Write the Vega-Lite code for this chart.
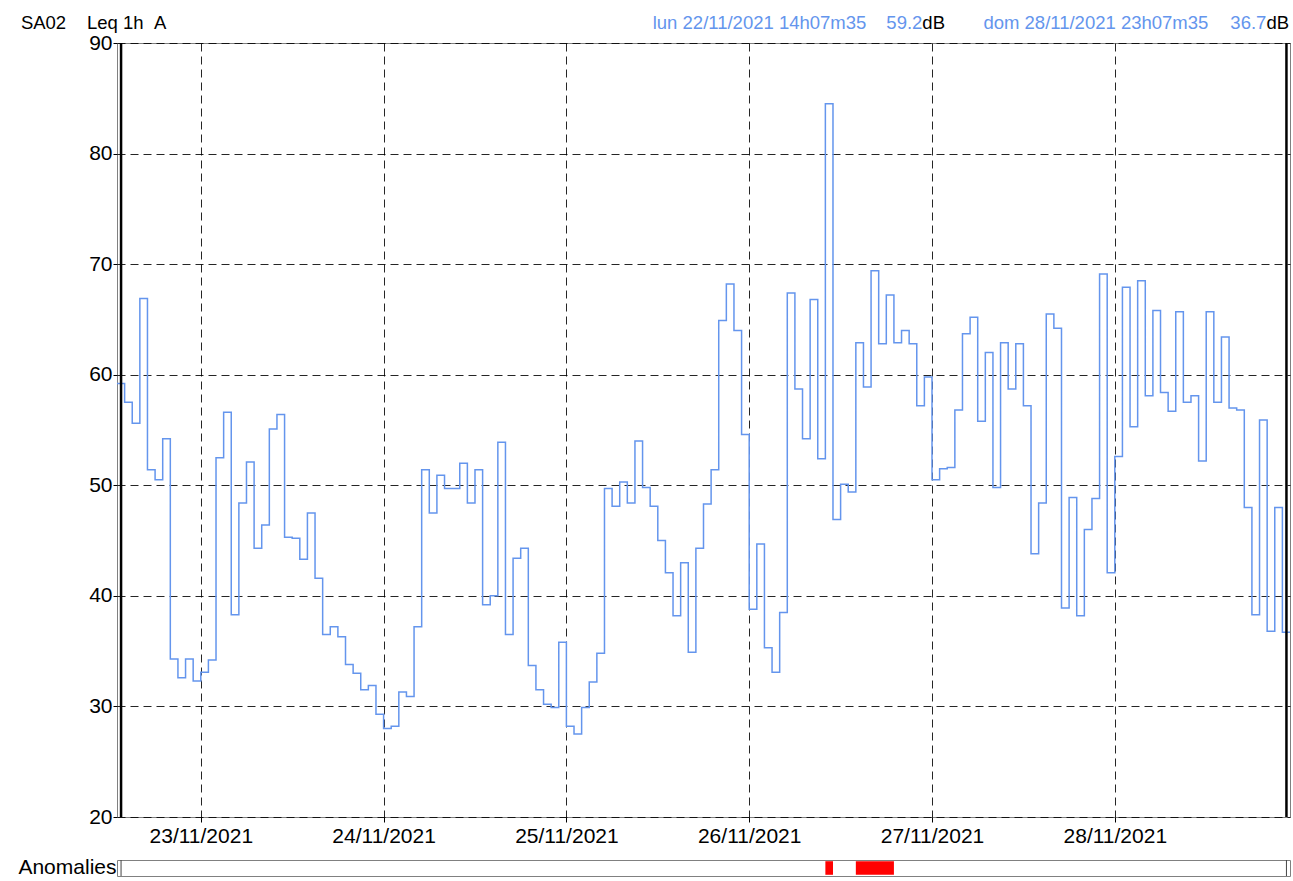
{
  "$schema": "https://vega.github.io/schema/vega-lite/v6.json",
  "padding": {"left": 16, "top": 13, "right": 0, "bottom": 0},
  "background": "white",
  "config": {
    "font": "Liberation Sans",
    "view": {"stroke": "#808080", "strokeWidth": 1},
    "axis": {"labelColor": "black", "tickColor": "black", "labelFont": "Liberation Sans"}
  },
  "datasets": {
    "leq": [
      {"t":"2021-11-22T13:00","v":59.2},{"t":"2021-11-22T14:00","v":57.5},{"t":"2021-11-22T15:00","v":55.6},{"t":"2021-11-22T16:00","v":66.9},
      {"t":"2021-11-22T17:00","v":51.4},{"t":"2021-11-22T18:00","v":50.5},{"t":"2021-11-22T19:00","v":54.2},{"t":"2021-11-22T20:00","v":34.3},
      {"t":"2021-11-22T21:00","v":32.6},{"t":"2021-11-22T22:00","v":34.3},{"t":"2021-11-22T23:00","v":32.3},
      {"t":"2021-11-23T00:00","v":33.1},{"t":"2021-11-23T01:00","v":34.2},{"t":"2021-11-23T02:00","v":52.5},{"t":"2021-11-23T03:00","v":56.6},
      {"t":"2021-11-23T04:00","v":38.3},{"t":"2021-11-23T05:00","v":48.4},{"t":"2021-11-23T06:00","v":52.1},{"t":"2021-11-23T07:00","v":44.3},
      {"t":"2021-11-23T08:00","v":46.4},{"t":"2021-11-23T09:00","v":55.1},{"t":"2021-11-23T10:00","v":56.4},{"t":"2021-11-23T11:00","v":45.3},
      {"t":"2021-11-23T12:00","v":45.2},{"t":"2021-11-23T13:00","v":43.3},{"t":"2021-11-23T14:00","v":47.5},{"t":"2021-11-23T15:00","v":41.6},
      {"t":"2021-11-23T16:00","v":36.5},{"t":"2021-11-23T17:00","v":37.2},{"t":"2021-11-23T18:00","v":36.3},{"t":"2021-11-23T19:00","v":33.8},
      {"t":"2021-11-23T20:00","v":33.0},{"t":"2021-11-23T21:00","v":31.5},{"t":"2021-11-23T22:00","v":31.9},{"t":"2021-11-23T23:00","v":29.3},
      {"t":"2021-11-24T00:00","v":28.0},{"t":"2021-11-24T01:00","v":28.2},{"t":"2021-11-24T02:00","v":31.3},{"t":"2021-11-24T03:00","v":30.9},
      {"t":"2021-11-24T04:00","v":37.2},{"t":"2021-11-24T05:00","v":51.4},{"t":"2021-11-24T06:00","v":47.5},{"t":"2021-11-24T07:00","v":50.9},
      {"t":"2021-11-24T08:00","v":49.7},{"t":"2021-11-24T09:00","v":49.7},{"t":"2021-11-24T10:00","v":52.0},{"t":"2021-11-24T11:00","v":48.4},
      {"t":"2021-11-24T12:00","v":51.4},{"t":"2021-11-24T13:00","v":39.2},{"t":"2021-11-24T14:00","v":40.0},{"t":"2021-11-24T15:00","v":53.9},
      {"t":"2021-11-24T16:00","v":36.5},{"t":"2021-11-24T17:00","v":43.4},{"t":"2021-11-24T18:00","v":44.3},{"t":"2021-11-24T19:00","v":33.7},
      {"t":"2021-11-24T20:00","v":31.5},{"t":"2021-11-24T21:00","v":30.2},{"t":"2021-11-24T22:00","v":29.9},{"t":"2021-11-24T23:00","v":35.8},
      {"t":"2021-11-25T00:00","v":28.2},{"t":"2021-11-25T01:00","v":27.5},{"t":"2021-11-25T02:00","v":29.9},{"t":"2021-11-25T03:00","v":32.2},
      {"t":"2021-11-25T04:00","v":34.8},{"t":"2021-11-25T05:00","v":49.7},{"t":"2021-11-25T06:00","v":48.1},{"t":"2021-11-25T07:00","v":50.3},
      {"t":"2021-11-25T08:00","v":48.4},{"t":"2021-11-25T09:00","v":54.0},{"t":"2021-11-25T10:00","v":49.8},{"t":"2021-11-25T11:00","v":48.1},
      {"t":"2021-11-25T12:00","v":45.0},{"t":"2021-11-25T13:00","v":42.1},{"t":"2021-11-25T14:00","v":38.2},{"t":"2021-11-25T15:00","v":43.0},
      {"t":"2021-11-25T16:00","v":34.9},{"t":"2021-11-25T17:00","v":44.3},{"t":"2021-11-25T18:00","v":48.3},{"t":"2021-11-25T19:00","v":51.4},
      {"t":"2021-11-25T20:00","v":64.9},{"t":"2021-11-25T21:00","v":68.2},{"t":"2021-11-25T22:00","v":64.0},{"t":"2021-11-25T23:00","v":54.6},
      {"t":"2021-11-26T00:00","v":38.8},{"t":"2021-11-26T01:00","v":44.7},{"t":"2021-11-26T02:00","v":35.3},{"t":"2021-11-26T03:00","v":33.1},
      {"t":"2021-11-26T04:00","v":38.5},{"t":"2021-11-26T05:00","v":67.4},{"t":"2021-11-26T06:00","v":58.7},{"t":"2021-11-26T07:00","v":54.2},
      {"t":"2021-11-26T08:00","v":66.8},{"t":"2021-11-26T09:00","v":52.4},{"t":"2021-11-26T10:00","v":84.5},{"t":"2021-11-26T11:00","v":46.9},
      {"t":"2021-11-26T12:00","v":50.1},{"t":"2021-11-26T13:00","v":49.4},{"t":"2021-11-26T14:00","v":62.9},{"t":"2021-11-26T15:00","v":58.9},
      {"t":"2021-11-26T16:00","v":69.4},{"t":"2021-11-26T17:00","v":62.8},{"t":"2021-11-26T18:00","v":67.2},{"t":"2021-11-26T19:00","v":62.9},
      {"t":"2021-11-26T20:00","v":64.0},{"t":"2021-11-26T21:00","v":62.8},{"t":"2021-11-26T22:00","v":57.2},{"t":"2021-11-26T23:00","v":59.8},
      {"t":"2021-11-27T00:00","v":50.5},{"t":"2021-11-27T01:00","v":51.5},{"t":"2021-11-27T02:00","v":51.6},{"t":"2021-11-27T03:00","v":56.8},
      {"t":"2021-11-27T04:00","v":63.7},{"t":"2021-11-27T05:00","v":65.2},{"t":"2021-11-27T06:00","v":55.8},{"t":"2021-11-27T07:00","v":62.0},
      {"t":"2021-11-27T08:00","v":49.8},{"t":"2021-11-27T09:00","v":62.9},{"t":"2021-11-27T10:00","v":58.7},{"t":"2021-11-27T11:00","v":62.8},
      {"t":"2021-11-27T12:00","v":57.2},{"t":"2021-11-27T13:00","v":43.8},{"t":"2021-11-27T14:00","v":48.4},{"t":"2021-11-27T15:00","v":65.5},
      {"t":"2021-11-27T16:00","v":64.2},{"t":"2021-11-27T17:00","v":38.9},{"t":"2021-11-27T18:00","v":48.9},{"t":"2021-11-27T19:00","v":38.2},
      {"t":"2021-11-27T20:00","v":46.0},{"t":"2021-11-27T21:00","v":48.8},{"t":"2021-11-27T22:00","v":69.1},{"t":"2021-11-27T23:00","v":42.1},
      {"t":"2021-11-28T00:00","v":52.6},{"t":"2021-11-28T01:00","v":67.9},{"t":"2021-11-28T02:00","v":55.3},{"t":"2021-11-28T03:00","v":68.5},
      {"t":"2021-11-28T04:00","v":58.1},{"t":"2021-11-28T05:00","v":65.8},{"t":"2021-11-28T06:00","v":58.4},{"t":"2021-11-28T07:00","v":56.7},
      {"t":"2021-11-28T08:00","v":65.7},{"t":"2021-11-28T09:00","v":57.5},{"t":"2021-11-28T10:00","v":58.1},{"t":"2021-11-28T11:00","v":52.2},
      {"t":"2021-11-28T12:00","v":65.7},{"t":"2021-11-28T13:00","v":57.5},{"t":"2021-11-28T14:00","v":63.4},{"t":"2021-11-28T15:00","v":57.0},
      {"t":"2021-11-28T16:00","v":56.8},{"t":"2021-11-28T17:00","v":48.0},{"t":"2021-11-28T18:00","v":38.3},{"t":"2021-11-28T19:00","v":55.9},
      {"t":"2021-11-28T20:00","v":36.8},{"t":"2021-11-28T21:00","v":48.0},{"t":"2021-11-28T22:00","v":36.7},{"t":"2021-11-28T23:00","v":36.7}
    ],
    "cursors": [{"t":"2021-11-22T13:32"},{"t":"2021-11-28T22:32"}],
    "anomalies": [
      {"s":"2021-11-26T10:00","e":"2021-11-26T11:00","row":"Anomalies"},
      {"s":"2021-11-26T14:00","e":"2021-11-26T19:00","row":"Anomalies"}
    ],
    "blueLeft": [
      {"t":"2021-11-25T11:20","label":"lun 22/11/2021 14h07m35"},
      {"t":"2021-11-27T06:45","label":"dom 28/11/2021 23h07m35"}
    ],
    "blueRight": [
      {"t":"2021-11-26T22:44","label":"59.2"},
      {"t":"2021-11-28T19:54","label":"36.7"}
    ],
    "blackLeft": [
      {"t":"2021-11-22T00:23","label":"SA02"},
      {"t":"2021-11-22T09:04","label":"Leq 1h\u00a0\u00a0A"},
      {"t":"2021-11-26T22:44","label":"dB"},
      {"t":"2021-11-28T19:54","label":"dB"}
    ]
  },
  "spacing": 9,
  "vconcat": [
    {
      "width": 1173,
      "height": 774,
      "encoding": {
        "x": {
          "field": "t", "type": "temporal",
          "scale": {"domain": [{"year":2021,"month":11,"date":22,"hours":13},{"year":2021,"month":11,"date":28,"hours":23}], "nice": false},
          "axis": {
            "title": null, "format": "%d/%m/%Y", "tickCount": {"interval": "day", "step": 1},
            "labelFontSize": 21, "tickSize": 5, "labelPadding": 3, "domain": false,
            "grid": true, "gridColor": "black", "gridDash": [8, 5], "gridOpacity": 0.85, "labelOverlap": false
          }
        }
      },
      "layer": [
        {
          "data": {"name": "leq"},
          "mark": {"type": "line", "interpolate": "step-after", "color": "#6495ED", "strokeWidth": 1.5, "clip": true},
          "encoding": {
            "y": {
              "field": "v", "type": "quantitative",
              "scale": {"domain": [20, 90], "nice": false, "zero": false},
              "axis": {
                "title": null, "values": [20, 30, 40, 50, 60, 70, 80, 90], "labelFontSize": 21,
                "tickSize": 4, "labelPadding": 1, "domain": false, "grid": true, "gridColor": "black",
                "gridDash": [8, 5], "gridOpacity": 0.85, "minExtent": 100, "maxExtent": 100
              }
            }
          }
        },
        {
          "data": {"name": "cursors"},
          "mark": {"type": "rule", "color": "black", "strokeWidth": 2.5},
          "encoding": {}
        },
        {
          "data": {"name": "blueLeft"},
          "mark": {"type": "text", "align": "left", "baseline": "middle", "dy": -20, "fontSize": 18.5, "color": "#6495ED"},
          "encoding": {"y": {"datum": 90, "type": "quantitative"}, "text": {"field": "label"}}
        },
        {
          "data": {"name": "blueRight"},
          "mark": {"type": "text", "align": "right", "baseline": "middle", "dy": -20, "fontSize": 18.5, "color": "#6495ED"},
          "encoding": {"y": {"datum": 90, "type": "quantitative"}, "text": {"field": "label"}}
        },
        {
          "data": {"name": "blackLeft"},
          "mark": {"type": "text", "align": "left", "baseline": "middle", "dy": -20, "fontSize": 18.5, "color": "black"},
          "encoding": {"y": {"datum": 90, "type": "quantitative"}, "text": {"field": "label"}}
        }
      ]
    },
    {
      "width": 1173,
      "height": 16,
      "encoding": {
        "x": {
          "field": "s", "type": "temporal",
          "scale": {"domain": [{"year":2021,"month":11,"date":22,"hours":13},{"year":2021,"month":11,"date":28,"hours":23}], "nice": false},
          "axis": null
        }
      },
      "layer": [
        {
          "data": {"name": "anomalies"},
          "mark": {"type": "bar", "color": "#FF0000"},
          "encoding": {
            "x2": {"field": "e"},
            "y": {
              "field": "row", "type": "nominal", "scale": {"paddingInner": 0.1, "paddingOuter": 0.08},
              "axis": {"title": null, "ticks": false, "domain": false, "labelFontSize": 21, "labelPadding": 1, "minExtent": 100, "maxExtent": 100}
            }
          }
        },
        {
          "data": {"name": "cursors"},
          "mark": {"type": "rule", "color": "#444", "strokeWidth": 1},
          "encoding": {"x": {"field": "t", "type": "temporal"}}
        }
      ]
    }
  ]
}
